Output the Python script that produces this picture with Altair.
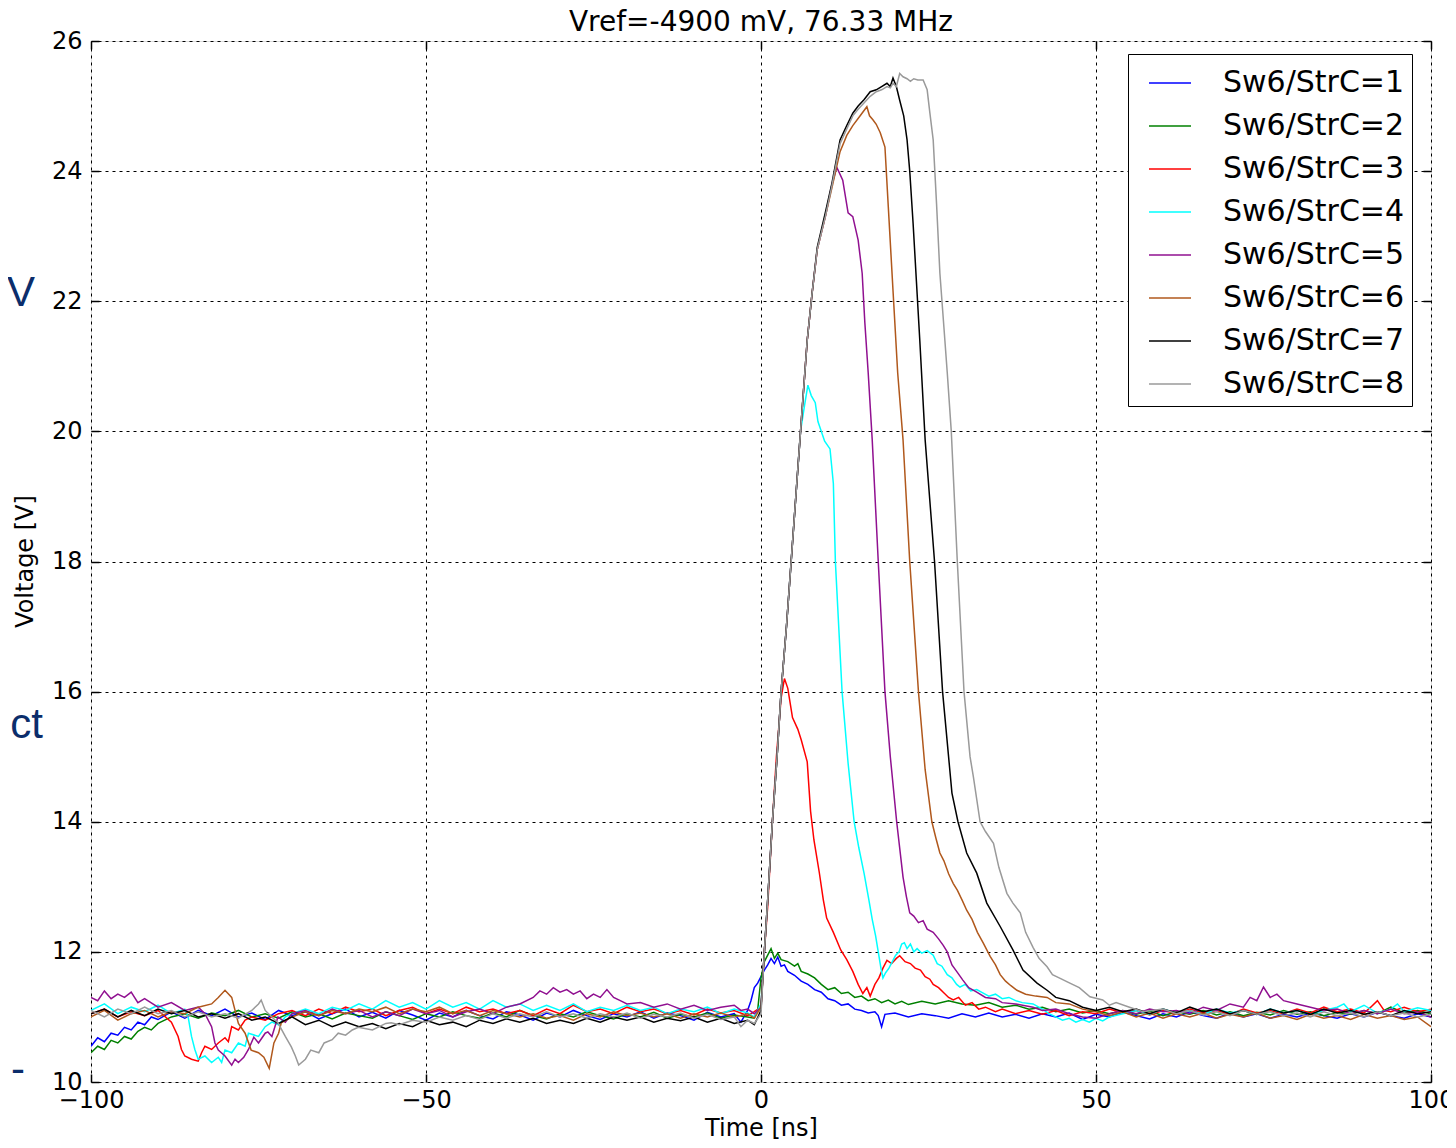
import altair as alt
import pandas as pd

# ---- series data: (time ns, voltage V) ----
S1 = [(-100,10.55),(-99,10.68),(-98,10.62),(-97,10.75),(-96,10.72),(-95,10.84),(-94,10.8),(-93,10.92),(-92,10.88),(-91,11.0),(-90,10.96),(-88,11.08),(-86,10.98),(-84,11.1),(-82,11.02),(-80,11.12),(-78,11.0),(-76,11.06),(-74,10.96),(-72,11.1),(-70,11.02),(-68,11.08),(-66,10.97),(-64,11.05),(-62,11.12),(-60,11.0),(-58,11.07),(-56,10.98),(-54,11.1),(-52,11.03),(-50,10.95),(-48,11.06),(-46,11.0),(-44,11.1),(-42,11.02),(-40,10.97),(-38,11.08),(-36,11.03),(-34,10.95),(-32,11.06),(-30,11.0),(-28,11.1),(-26,11.02),(-24,10.96),(-22,11.05),(-20,11.0),(-18,11.08),(-16,10.98),(-14,11.06),(-12,11.02),(-10,10.95),(-8,11.07),(-6,11.0),(-4,11.05),(-3,10.92),(-2,11.1),(-1.5,11.25),(-1,11.45),(-0.5,11.52),(0,11.62),(0.5,11.72),(1,11.8),(1.5,11.9),(2,11.82),(2.5,11.92),(3,11.78),(3.5,11.8),(4,11.7),(5,11.64),(6,11.55),(7,11.5),(8,11.42),(9,11.38),(10,11.28),(11,11.25),(12,11.18),(13,11.2),(14,11.12),(15,11.1),(16,11.06),(17,11.08),(17.5,11.02),(18,10.85),(18.5,11.04),(20,11.06),(22,11.0),(24,11.05),(26,11.02),(28,10.98),(30,11.05),(32,11.0),(34,11.06),(36,11.0),(38,11.04),(40,10.98),(42,11.05),(44,11.0),(46,11.06),(48,10.96),(50,11.04),(52,11.0),(54,11.07),(56,11.02),(58,10.97),(60,11.05),(62,11.0),(64,11.08),(66,11.02),(68,10.98),(70,11.06),(72,11.0),(74,11.05),(76,10.98),(78,11.04),(80,11.0),(82,11.06),(84,11.02),(86,10.98),(88,11.05),(90,11.0),(92,11.07),(94,11.02),(96,10.98),(98,11.05),(100,11.0)]

S2 = [(-100,10.45),(-99,10.55),(-98,10.5),(-97,10.64),(-96,10.6),(-95,10.7),(-94,10.66),(-93,10.78),(-92,10.84),(-91,10.8),(-90,10.9),(-89,10.95),(-88,11.0),(-86,11.05),(-84,10.98),(-82,11.06),(-80,11.02),(-78,11.1),(-76,11.0),(-74,11.05),(-72,10.98),(-70,11.08),(-68,11.0),(-66,11.05),(-64,10.97),(-62,11.06),(-60,11.02),(-58,10.98),(-56,11.08),(-54,11.02),(-52,10.96),(-50,11.05),(-48,11.0),(-46,11.08),(-44,11.02),(-42,10.98),(-40,11.06),(-38,11.0),(-36,11.1),(-34,11.02),(-32,10.97),(-30,11.05),(-28,11.0),(-26,11.08),(-24,11.02),(-22,10.97),(-20,11.05),(-18,11.0),(-16,11.07),(-14,10.98),(-12,11.04),(-10,11.0),(-8,11.06),(-6,10.98),(-4,11.03),(-2,11.0),(-1,10.98),(-0.5,11.1),(0,11.6),(0.5,11.85),(1,11.95),(1.5,12.05),(2,11.9),(2.5,11.98),(3,11.88),(4,11.85),(5,11.78),(5.5,11.82),(6,11.7),(7,11.66),(8,11.6),(9,11.5),(10,11.42),(11,11.45),(12,11.36),(13,11.38),(14,11.3),(15,11.32),(16,11.25),(17,11.28),(18,11.22),(19,11.26),(20,11.2),(21,11.24),(22,11.19),(24,11.24),(26,11.2),(28,11.25),(30,11.2),(32,11.18),(34,11.22),(36,11.15),(38,11.18),(40,11.12),(42,11.15),(44,11.08),(46,11.12),(48,11.06),(50,11.1),(52,11.05),(54,11.1),(56,11.04),(58,11.09),(60,11.02),(62,11.08),(64,11.04),(66,11.1),(68,11.03),(70,11.08),(72,11.02),(74,11.07),(76,11.03),(78,11.1),(80,11.04),(82,11.08),(84,11.02),(86,11.07),(88,11.04),(90,11.1),(92,11.05),(94,11.15),(96,11.06),(98,11.1),(100,11.05)]

S3 = [(-100,11.05),(-98,11.12),(-96,11.0),(-94,11.08),(-92,11.02),(-90,11.1),(-88,10.92),(-87,10.7),(-86.5,10.5),(-86,10.4),(-85,10.35),(-84,10.32),(-83.5,10.45),(-83,10.55),(-82,10.5),(-81,10.6),(-80,10.68),(-79.5,10.62),(-79,10.85),(-78,10.8),(-77,10.95),(-76,11.0),(-74,10.95),(-72,11.05),(-70,11.1),(-68,11.02),(-66,11.12),(-64,11.05),(-62,11.15),(-60,11.08),(-58,11.12),(-56,11.02),(-54,11.1),(-52,11.15),(-50,11.05),(-48,11.12),(-46,11.05),(-44,11.15),(-42,11.08),(-40,11.12),(-38,11.05),(-36,11.1),(-34,11.02),(-32,11.12),(-30,11.05),(-28,11.18),(-26,11.08),(-24,11.12),(-22,11.05),(-20,11.15),(-18,11.08),(-16,11.12),(-14,11.05),(-12,11.1),(-10,11.03),(-8,11.12),(-6,11.06),(-4,11.1),(-2,11.02),(-1,11.08),(0,11.15),(0.5,12.0),(1,12.7),(1.7,14.0),(2.3,15.0),(3,15.9),(3.5,16.2),(4,16.05),(4.7,15.6),(5.5,15.42),(6,15.26),(6.9,14.92),(7.4,14.16),(7.9,13.72),(8.7,13.22),(9.3,12.8),(9.8,12.52),(10.8,12.3),(11.9,12.03),(12.8,11.88),(13.7,11.7),(14.5,11.5),(15.2,11.36),(15.8,11.45),(16.3,11.32),(17,11.5),(17.6,11.6),(18.2,11.75),(18.8,11.87),(19.5,11.82),(20.2,11.9),(20.7,11.94),(21.5,11.85),(22.3,11.82),(23,11.75),(23.8,11.72),(24.5,11.62),(25.2,11.58),(25.7,11.5),(26.5,11.45),(27.2,11.38),(28,11.3),(28.7,11.26),(29.5,11.3),(30.5,11.18),(31.5,11.22),(32.5,11.12),(33.5,11.15),(35,11.08),(36,11.12),(38,11.05),(40,11.1),(42,11.04),(44,11.1),(46,11.02),(48,11.08),(50,11.05),(52,11.12),(54,11.06),(56,11.1),(58,11.03),(60,11.1),(62,11.05),(64,11.12),(66,11.06),(68,11.1),(70,11.04),(72,11.12),(74,11.06),(76,11.1),(78,11.05),(80,11.12),(82,11.06),(84,11.15),(86,11.08),(88,11.12),(90,11.06),(91,11.15),(92,11.25),(93,11.1),(94,11.08),(96,11.15),(98,11.08),(100,11.12)]

S4 = [(-100,11.1),(-98,11.2),(-96,11.05),(-94,11.15),(-92,11.08),(-90,11.18),(-88,11.05),(-86,11.12),(-85.5,11.0),(-85,10.7),(-84.5,10.5),(-84,10.35),(-83,10.4),(-82,10.3),(-81,10.38),(-80.5,10.3),(-80,10.49),(-79,10.45),(-78,10.6),(-77,10.55),(-76.5,10.75),(-75,10.7),(-74,10.85),(-73,10.92),(-72,10.88),(-71,11.0),(-70,11.05),(-68,11.12),(-66,11.05),(-64,11.15),(-62,11.1),(-60,11.2),(-58,11.12),(-56,11.25),(-54,11.15),(-52,11.22),(-50,11.12),(-48,11.25),(-46,11.15),(-44,11.22),(-42,11.12),(-40,11.25),(-38,11.15),(-36,11.2),(-34,11.1),(-32,11.18),(-30,11.1),(-28,11.2),(-26,11.08),(-24,11.15),(-22,11.1),(-20,11.18),(-18,11.1),(-16,11.15),(-14,11.05),(-12,11.12),(-10,11.08),(-8,11.15),(-6,11.05),(-4,11.12),(-2,11.06),(-1,11.0),(0,11.2),(0.5,12.0),(1,12.8),(1.7,14.0),(2.4,15.0),(3,16.0),(3.8,17.0),(4.5,18.0),(5.2,19.0),(5.9,20.0),(6.5,20.4),(7,20.71),(7.5,20.55),(8.1,20.44),(8.5,20.15),(9.5,19.85),(10.3,19.73),(10.8,19.2),(11.1,18.0),(12.1,16.0),(13,14.9),(13.9,14.0),(14.6,13.6),(15.4,13.2),(16.1,12.8),(16.6,12.5),(17.1,12.25),(17.5,12.0),(17.9,11.75),(18.2,11.6),(18.6,11.68),(19.1,11.75),(19.6,11.85),(20.1,11.95),(20.6,12.0),(21,12.12),(21.4,12.14),(21.8,12.05),(22.3,12.12),(22.8,12.0),(23.3,12.05),(24,11.98),(24.8,12.02),(25.7,11.95),(26.3,11.82),(27,11.78),(27.8,11.65),(28.5,11.6),(29.2,11.5),(29.7,11.46),(30.5,11.5),(31.3,11.4),(32.2,11.42),(33.1,11.37),(34,11.32),(35,11.35),(36,11.28),(37,11.3),(38,11.25),(39,11.22),(40.6,11.2),(42,11.12),(43,11.05),(44,11.0),(45,10.95),(46,10.98),(47,10.92),(48,10.96),(49,10.92),(50,10.98),(51,10.94),(52,11.0),(54,11.05),(56,11.1),(58,11.04),(60,11.12),(62,11.06),(64,11.1),(66,11.04),(68,11.12),(70,11.06),(72,11.1),(74,11.04),(76,11.12),(78,11.06),(80,11.1),(82,11.04),(84,11.1),(86,11.15),(87,11.2),(88,11.08),(90,11.18),(92,11.06),(94,11.12),(95,11.2),(96,11.08),(98,11.14),(100,11.1)]

S5 = [(-100,11.3),(-99,11.25),(-98,11.4),(-97,11.28),(-96,11.35),(-95,11.3),(-94,11.38),(-93,11.22),(-92,11.28),(-90,11.15),(-88,11.22),(-86,11.1),(-84,11.15),(-83,11.05),(-82,10.85),(-81.5,10.6),(-81,10.49),(-80,10.4),(-79,10.26),(-78.5,10.35),(-78,10.3),(-77.2,10.38),(-76.5,10.5),(-75.7,10.69),(-75,10.6),(-74,10.75),(-73.6,10.77),(-73,10.7),(-72.1,11.0),(-71,10.92),(-70,11.05),(-68,11.1),(-66,11.02),(-64,11.12),(-62,11.05),(-60,11.1),(-58,11.0),(-56,11.08),(-54,11.02),(-52,11.12),(-50,11.05),(-48,11.1),(-46,11.0),(-44,11.08),(-42,11.12),(-40,11.05),(-38,11.15),(-36,11.2),(-34,11.3),(-33,11.4),(-32,11.35),(-31,11.45),(-30,11.38),(-29,11.42),(-28,11.35),(-27,11.4),(-26,11.28),(-25,11.35),(-24,11.3),(-23,11.42),(-22,11.3),(-21,11.25),(-20,11.2),(-18,11.22),(-16,11.15),(-14,11.2),(-12,11.12),(-10,11.18),(-8,11.1),(-6,11.15),(-4,11.18),(-3,11.1),(-2,11.12),(-1,11.05),(0,11.15),(0.5,12.0),(1,12.8),(1.7,14.0),(2.4,15.0),(3,16.0),(3.8,17.0),(4.5,18.0),(5.2,19.0),(5.9,20.0),(6.9,21.4),(7.6,22.1),(8.4,22.8),(9,23.05),(9.6,23.3),(10.6,23.8),(11.3,24.06),(11.8,23.95),(12.2,23.86),(13.0,23.36),(13.7,23.3),(14.5,22.94),(15.1,22.43),(15.5,21.67),(16.0,20.9),(16.6,19.87),(17.5,18.0),(18.5,16.0),(19.3,15.0),(20.25,14.0),(21.2,13.15),(21.7,12.85),(22.2,12.6),(22.8,12.55),(23.5,12.45),(24.2,12.48),(24.8,12.35),(25.7,12.3),(26.5,12.2),(27.2,12.1),(27.8,12.0),(28.5,11.8),(29.2,11.7),(30.1,11.57),(31,11.45),(32.2,11.38),(33.5,11.3),(35,11.28),(36,11.22),(38,11.2),(40.6,11.15),(42,11.1),(44,11.12),(46,11.05),(48,11.0),(50,10.98),(52,11.05),(54,11.1),(56,11.05),(58,11.12),(60,11.08),(62,11.1),(64,11.05),(66,11.15),(68,11.1),(70,11.2),(72,11.15),(73,11.3),(74,11.25),(75,11.46),(76,11.3),(77,11.35),(78,11.25),(80,11.2),(82,11.15),(84,11.1),(86,11.12),(88,11.05),(90,11.1),(92,11.05),(94,11.12),(96,11.05),(98,11.08),(100,11.0)]

S6 = [(-100,11.0),(-98,11.1),(-96,10.95),(-94,11.05),(-92,11.1),(-90,11.0),(-88,11.08),(-86,11.05),(-84,11.15),(-82,11.2),(-81,11.3),(-80,11.41),(-79,11.3),(-78,10.9),(-77,10.75),(-76.1,10.49),(-75,10.45),(-74.2,10.38),(-73.4,10.21),(-72.7,10.6),(-72,10.75),(-71.6,10.91),(-70,11.0),(-68,11.08),(-66,11.02),(-64,11.1),(-62,11.05),(-60,11.12),(-58,11.08),(-56,11.15),(-54,11.05),(-52,11.12),(-50,11.08),(-48,11.15),(-46,11.05),(-44,11.1),(-42,11.02),(-40,11.1),(-38,11.05),(-36,11.0),(-34,11.05),(-32,10.98),(-30,11.02),(-28,10.95),(-26,11.05),(-24,11.0),(-22,11.08),(-20,11.02),(-18,11.06),(-16,11.0),(-14,11.05),(-12,10.98),(-10,11.05),(-8,11.0),(-6,11.06),(-4,11.0),(-2,11.05),(-1,10.98),(0,11.15),(0.5,12.0),(1,12.8),(1.7,14.0),(2.4,15.0),(3,16.0),(3.8,17.0),(4.5,18.0),(5.2,19.0),(5.9,20.0),(6.9,21.4),(7.6,22.1),(8.4,22.8),(9.6,23.3),(10.6,23.75),(11.8,24.3),(12.8,24.55),(13.7,24.7),(14.8,24.85),(15.8,24.99),(16.2,24.85),(16.7,24.79),(17.2,24.72),(17.8,24.59),(18.5,24.37),(19.0,23.45),(19.7,22.17),(20.4,20.9),(21.2,19.87),(22.2,18.0),(23.5,16.0),(24.5,14.8),(25.5,14.0),(26.1,13.75),(26.7,13.52),(27.3,13.4),(28,13.2),(28.7,13.05),(29.3,12.95),(30,12.8),(30.7,12.64),(31.5,12.5),(32.3,12.3),(33.2,12.13),(34.2,11.93),(35,11.8),(35.7,11.65),(36.5,11.55),(37.3,11.48),(38.2,11.41),(39.5,11.35),(41,11.32),(42.7,11.3),(44,11.22),(46,11.2),(48,11.12),(50,11.08),(52,11.02),(54,11.08),(56,11.0),(58,11.06),(60,10.98),(62,11.05),(64,11.0),(66,11.06),(68,10.98),(70,11.04),(72,11.0),(74,11.06),(76,10.98),(78,11.02),(80,10.96),(82,11.04),(84,10.98),(86,11.02),(88,10.96),(90,11.04),(92,10.98),(94,11.02),(96,10.96),(98,11.0),(100,10.85)]

S7 = [(-100,11.05),(-98,11.12),(-96,11.0),(-94,11.1),(-92,11.02),(-90,11.12),(-88,11.05),(-86,11.1),(-84,11.0),(-82,11.05),(-80,10.98),(-78,11.05),(-76,10.95),(-74,11.0),(-72,10.9),(-70,11.0),(-68,10.88),(-66,10.95),(-64,10.85),(-62,10.92),(-60,10.85),(-58,10.9),(-56,10.82),(-54,10.9),(-52,10.85),(-50,10.95),(-48,10.88),(-46,10.92),(-44,10.85),(-42,10.95),(-40,10.9),(-38,10.97),(-36,10.92),(-34,10.98),(-32,10.9),(-30,10.95),(-28,10.9),(-26,10.98),(-24,10.92),(-22,11.0),(-20,10.95),(-18,11.0),(-16,10.92),(-14,10.98),(-12,10.94),(-10,11.0),(-8,10.92),(-6,10.98),(-4,10.9),(-2,10.95),(-1,10.88),(0,11.1),(0.5,12.0),(1,12.8),(1.7,14.0),(2.4,15.0),(3,16.0),(3.8,17.0),(4.5,18.0),(5.2,19.0),(5.9,20.0),(6.9,21.4),(7.6,22.1),(8.4,22.83),(9.6,23.36),(10.6,23.82),(11.2,24.15),(11.8,24.48),(12.8,24.7),(13.7,24.89),(14.5,25.0),(15.4,25.1),(16.3,25.22),(17.2,25.25),(18,25.3),(18.8,25.35),(19.3,25.3),(19.7,25.43),(20.2,25.3),(20.7,25.09),(21.3,24.85),(21.8,24.48),(22.2,24.0),(22.7,23.2),(23.2,22.3),(23.7,21.4),(24.5,19.87),(25.9,18.0),(27.1,16.0),(28.5,14.44),(29.4,14.0),(30.7,13.52),(32.2,13.21),(33.7,12.75),(35.7,12.39),(37.6,12.03),(39.1,11.72),(41.2,11.52),(42.7,11.41),(44,11.3),(46,11.25),(48,11.15),(50,11.1),(52,11.15),(54,11.08),(56,11.12),(58,11.05),(60,11.12),(62,11.06),(64,11.15),(66,11.08),(68,11.12),(70,11.05),(72,11.1),(74,11.04),(76,11.12),(78,11.06),(80,11.1),(82,11.04),(84,11.12),(86,11.06),(88,11.1),(90,11.04),(92,11.08),(94,11.02),(96,11.1),(98,11.05),(100,11.08)]

S8 = [(-100,11.1),(-98,11.0),(-96,11.12),(-94,11.05),(-92,11.15),(-90,11.05),(-88,11.1),(-86,11.0),(-84,11.08),(-82,11.0),(-80,11.05),(-78,10.98),(-76,11.1),(-75,11.2),(-74.6,11.26),(-74,11.1),(-73,11.0),(-72.1,10.91),(-71,10.7),(-70.1,10.54),(-69.5,10.4),(-69,10.26),(-68,10.35),(-67.2,10.49),(-66,10.45),(-65.2,10.6),(-64,10.65),(-63.1,10.75),(-62,10.72),(-61,10.8),(-60.1,10.84),(-58,10.8),(-56,10.9),(-55.2,10.91),(-54,10.88),(-52,10.95),(-50,10.92),(-48,11.0),(-46,10.95),(-44,11.02),(-42,10.96),(-40,11.05),(-38,10.98),(-36,11.05),(-34,11.0),(-32,11.08),(-30,11.0),(-28,11.05),(-26,10.98),(-24,11.05),(-22,11.0),(-20,11.06),(-18,10.98),(-16,11.04),(-14,11.0),(-12,11.06),(-10,10.98),(-8,11.04),(-6,10.96),(-4,11.0),(-3,10.85),(-2,10.95),(-1,10.9),(0,11.05),(0.5,12.0),(1,12.8),(1.7,14.0),(2.4,15.0),(3,16.0),(3.8,17.0),(4.5,18.0),(5.2,19.0),(5.9,20.0),(6.9,21.4),(7.6,22.1),(8.4,22.8),(9.6,23.3),(10.6,23.78),(11.8,24.42),(12.8,24.65),(13.7,24.85),(14.5,24.95),(15.4,25.05),(16.3,25.15),(17.2,25.22),(18,25.25),(18.8,25.3),(19.3,25.28),(19.7,25.35),(20.2,25.3),(20.7,25.5),(21.2,25.45),(21.8,25.42),(22.3,25.38),(22.8,25.42),(23.4,25.4),(24.2,25.4),(24.8,25.25),(25.2,24.9),(25.7,24.48),(26.2,23.5),(26.7,22.43),(27.3,21.6),(27.8,20.9),(28.4,20.0),(29.3,18.0),(30.3,16.0),(31.2,15.0),(31.7,14.69),(32.7,14.0),(33.5,13.85),(34.7,13.67),(35.5,13.3),(36.7,12.9),(37.6,12.75),(38.7,12.6),(39.5,12.3),(40.6,12.07),(41.5,11.9),(42.7,11.77),(43.5,11.65),(44.5,11.6),(46.1,11.52),(47.5,11.45),(49.1,11.31),(51,11.26),(52,11.18),(53,11.22),(55,11.15),(57,11.08),(60,11.12),(62,11.05),(64,11.1),(66,11.03),(68,11.08),(70,11.02),(72,11.1),(74,11.04),(76,11.08),(78,11.02),(80,11.06),(82,11.0),(84,11.08),(86,11.02),(88,11.06),(90,11.0),(92,11.08),(94,11.02),(96,11.06),(98,11.0),(100,11.04)]

SERIES = [S1, S2, S3, S4, S5, S6, S7, S8]
NAMES = ["Sw6/StrC=1", "Sw6/StrC=2", "Sw6/StrC=3", "Sw6/StrC=4",
         "Sw6/StrC=5", "Sw6/StrC=6", "Sw6/StrC=7", "Sw6/StrC=8"]
COLORS = ["#0000ff", "#008000", "#ff0000", "#00ffff",
          "#901090", "#b0581c", "#000000", "#9a9a9a"]
X_TICKS = [-100, -50, 0, 50, 100]
Y_TICKS = [10, 12, 14, 16, 18, 20, 22, 24, 26]
TITLE = "Vref=-4900 mV, 76.33 MHz"
X_TITLE = "Time [ns]"
Y_TITLE = "Voltage [V]"

rows = []
for order, (name, pts) in enumerate(zip(NAMES, SERIES)):
    for t, v in pts:
        rows.append({"t": t, "v": v, "series": name, "k": order})
df = pd.DataFrame(rows)

FONT = "DejaVu Sans"
W, H = 1340, 1041

xscale = alt.Scale(domain=[-100, 100], nice=False, zero=False)
yscale = alt.Scale(domain=[10, 26], nice=False, zero=False)

main = alt.Chart(df).mark_line(strokeWidth=1.5, clip=True).encode(
    x=alt.X("t:Q", scale=xscale, axis=alt.Axis(
        orient="bottom", values=X_TICKS, title=X_TITLE, ticks=False, tickSize=0,
        domain=False, grid=True, gridColor="black", gridDash=[3, 4], gridWidth=1,
        gridOpacity=1, labelFont=FONT, labelFontSize=24, labelColor="black",
        labelPadding=6, labelFlush=False, labelOverlap=False,
        titleFont=FONT, titleFontSize=24, titleFontWeight="normal", titleColor="black",
        titleX=670, titleY=46, titleBaseline="middle", titleAlign="center")),
    y=alt.Y("v:Q", scale=yscale, axis=alt.Axis(
        orient="left", values=Y_TICKS, title=Y_TITLE, ticks=False, tickSize=0,
        domain=False, grid=True, gridColor="black", gridDash=[3, 4], gridWidth=1,
        gridOpacity=1, labelFont=FONT, labelFontSize=24, labelColor="black",
        labelPadding=9, labelFlush=False, labelOverlap=False,
        titleFont=FONT, titleFontSize=24, titleFontWeight="normal", titleColor="black",
        titleX=-66, titleY=520, titleAngle=270, titleBaseline="middle", titleAlign="center")),
    color=alt.Color("series:N", scale=alt.Scale(domain=NAMES, range=COLORS),
                    legend=alt.Legend(
                        title=None, orient="none", legendX=1037, legendY=13,
                        strokeColor="black", fillColor="white", padding=7,
                        cornerRadius=0, symbolType="stroke", symbolSize=1764,
                        symbolStrokeWidth=1.5, symbolOffset=13, rowPadding=6,
                        labelFont=FONT, labelFontSize=30, labelColor="black",
                        labelOffset=31, labelLimit=400)),
    order=alt.Order("k:Q"),
)


def tick_axis(orient):
    return alt.Axis(orient=orient, values=X_TICKS if orient in ("top", "bottom") else Y_TICKS,
                    labels=False, domain=False, grid=False, title=None,
                    ticks=True, tickSize=8, tickWidth=1.5, tickColor="black", offset=-8)


ticks_bl = alt.Chart(df).mark_line(strokeOpacity=0).encode(
    x=alt.X("t:Q", scale=xscale, axis=tick_axis("bottom")),
    y=alt.Y("v:Q", scale=yscale, axis=tick_axis("left")),
    detail="series:N",
)
ticks_tr = alt.Chart(df).mark_line(strokeOpacity=0).encode(
    x=alt.X("t:Q", scale=xscale, axis=tick_axis("top")),
    y=alt.Y("v:Q", scale=yscale, axis=tick_axis("right")),
    detail="series:N",
)

# cropped slide-text fragments visible at the left edge of the reference
FRAG_TEXT = ["V", "ct", "-"]
FRAG_X = [-56, -48, -66]
FRAG_Y = [252, 684, 1029]
frag_df = pd.DataFrame({"txt": FRAG_TEXT, "px": FRAG_X, "py": FRAG_Y})
frags = alt.Chart(frag_df).mark_text(
    align="right", baseline="middle", font="Liberation Sans", fontSize=42,
    color="#0b2d6b").encode(
    text="txt:N",
    x=alt.X("px:Q", scale=None),
    y=alt.Y("py:Q", scale=None),
)

chart = alt.layer(main, ticks_bl, ticks_tr, frags).resolve_axis(
    x="independent", y="independent"
).properties(
    width=W, height=H,
    title=alt.TitleParams(text=TITLE, font=FONT, fontSize=28, fontWeight="normal",
                          color="black", anchor="middle", offset=11, frame="group",
                          dy=19),
    autosize=alt.AutoSizeParams(type="none"),
    padding={"left": 83, "top": 33, "right": 16, "bottom": 58},
).configure_view(stroke="black", strokeWidth=1.5).configure(background="white")

chart.save("out.html", embed_options={"renderer": "svg", "actions": False})
